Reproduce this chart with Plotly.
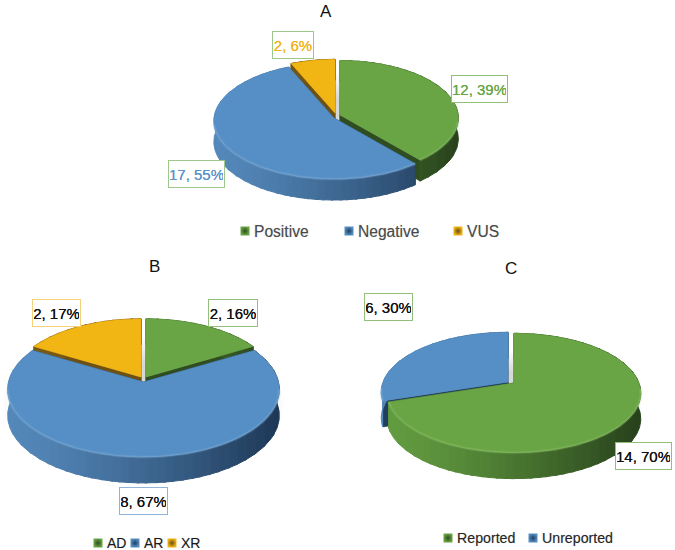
import math
import plotly.graph_objects as go

# panel A
a_names = ["Positive", "Negative", "VUS"]
a_counts = [12, 17, 2]
a_labels = ["12, 39%", "17, 55%", "2, 6%"]
# panel B
b_names = ["AD", "AR", "XR"]
b_counts = [2, 8, 2]
b_labels = ["2, 16%", "8, 67%", "2, 17%"]
# panel C
c_names = ["Reported", "Unreported"]
c_counts = [14, 6]
c_labels = ["14, 70%", "6, 30%"]

GREEN = {"top": "#69a544", "rim": "#8cc06a", "wall_l": (98, 156, 64), "wall_r": (40, 66, 28), "cut": "#2f4d20"}
BLUE = {"top": "#558fc5", "rim": "#80add8", "wall_l": (84, 136, 186), "wall_r": (30, 56, 86), "cut": "#203f60"}
YELLOW = {"top": "#f1b514", "rim": "#f7cc55", "wall_l": (120, 90, 20), "wall_r": (100, 72, 16), "cut": "#6d5012"}

panels = [
    dict(names=a_names, counts=a_counts, colors=[GREEN, BLUE, YELLOW], draw=[2, 0, 1],
         cx=337, cy=116, rx=120, ry=58, p=0.05, depth=21,
         offsets=[(3, -1), (-3, 2), (-2, -3)], scales=[0.985, 1, 0.97]),
    dict(names=b_names, counts=b_counts, colors=[GREEN, BLUE, YELLOW], draw=[0, 2, 1],
         cx=143.5, cy=380, rx=135, ry=66.7, p=0.11, depth=26,
         offsets=[(2.5, -3), (0, 2), (-2.5, -3)], scales=[0.965, 1, 0.965]),
    dict(names=c_names, counts=c_counts, colors=[GREEN, BLUE], draw=[1, 0],
         cx=511, cy=383, rx=125, ry=58, p=0.167, depth=26,
         offsets=[(3, 0), (-3, -1)], scales=[1, 1]),
]

fig = go.Figure()


def project(pan, off, theta, r=1.0):
    u, v = math.sin(theta) * r, math.cos(theta) * r
    k = 1 / (1 + pan["p"] * v)
    return pan["cx"] + off[0] + pan["rx"] * u * k, pan["cy"] + off[1] - pan["ry"] * v * k


def poly(xs, ys, color, opacity=1.0, width=0.6):
    fig.add_trace(go.Scatter(x=xs, y=ys, mode="lines", fill="toself", fillcolor=color, opacity=opacity,
                             line=dict(color=color, width=width), hoverinfo="skip", showlegend=False))


def draw_shadow(pan):
    # stacked faint ellipses, darkest under the middle of the pie
    for i in range(10):
        r = 1.03 - i * 0.05
        pts = [project(pan, (0, pan["depth"] - 7), math.radians(d), r) for d in range(0, 361, 4)]
        poly([q[0] for q in pts], [q[1] for q in pts], "#000000", 0.016, 0)


def draw_slice(pan, i, a0, a1):
    off = pan["offsets"][i]
    col = pan["colors"][i]
    d = pan["depth"]
    steps = max(int(math.degrees(a1 - a0)), 2)
    angles = [a0 + (a1 - a0) * s / steps for s in range(steps + 1)]
    rim = [project(pan, off, a, pan["scales"][i]) for a in angles]
    ax, ay = project(pan, off, 0, 0)

    # cut faces
    for q in (rim[0], rim[-1]):
        poly([ax, q[0], q[0], ax, ax], [ay, q[1], q[1] + d, ay + d, ay], col["cut"])

    # outer wall, one polygon per run of equal shade
    xmin, xmax = pan["cx"] - pan["rx"], pan["cx"] + pan["rx"]
    runs = []
    for j in range(steps):
        t = min(max(((rim[j][0] + rim[j + 1][0]) / 2 - xmin) / (xmax - xmin), 0), 1)
        key = round(t * 30)
        if runs and runs[-1][0] == key:
            runs[-1][2] = j + 1
        else:
            runs.append([key, j, j + 1])
    for key, j0, j1 in runs:
        t = (key / 30) ** 1.3
        rgb = tuple(round(l + (r - l) * t) for l, r in zip(col["wall_l"], col["wall_r"]))
        seg = rim[j0:min(j1 + 2, steps + 1)]
        xs = [q[0] for q in seg] + [q[0] for q in reversed(seg)]
        ys = [q[1] for q in seg] + [q[1] + d for q in reversed(seg)]
        poly(xs + xs[:1], ys + ys[:1], "rgb(%d,%d,%d)" % rgb, width=1)

    # top face
    poly([ax] + [q[0] for q in rim] + [ax], [ay] + [q[1] for q in rim] + [ay], col["top"])

    # soft bevel on the front of the rim
    front = [q for a, q in zip(angles, rim) if math.cos(a) < -0.1]
    if front:
        for width, alpha in [(3, 0.25), (1, 0.5)]:
            fig.add_trace(go.Scatter(x=[q[0] for q in front], y=[q[1] for q in front], mode="lines", opacity=alpha,
                                     line=dict(color=col["rim"], width=width), hoverinfo="skip", showlegend=False))


for pan in panels:
    draw_shadow(pan)
    total = sum(pan["counts"])
    edges = [0]
    for c in pan["counts"]:
        edges.append(edges[-1] + c / total * 2 * math.pi)
    for i in pan["draw"]:
        draw_slice(pan, i, edges[i], edges[i + 1])

# legends: marker + text, one trace per entry
legend_rows = [
    (a_names, [245, 349, 458], 231, (GREEN, BLUE, YELLOW), "#4a4a4a", 15.6),
    (b_names, [98, 135, 172], 543, (GREEN, BLUE, YELLOW), "#1a1a1a", 14),
    (c_names, [448, 533], 538, (GREEN, BLUE), "#262626", 14.2),
]
for names, xs, y, cols, tcolor, size in legend_rows:
    for name, x, c in zip(names, xs, cols):
        fig.add_trace(go.Scatter(x=[x], y=[y], mode="markers", hoverinfo="skip", showlegend=False,
                                 marker=dict(symbol="square", size=9, color=c["top"],
                                             gradient=dict(type="radial", color=c["cut"]), line=dict(width=0))))
        fig.add_annotation(x=x + 7, y=y, text=name, showarrow=False, xanchor="left", yanchor="middle",
                           font=dict(family="Liberation Sans", size=size, color=tcolor,
                                     shadow="0 0 1px rgba(0,0,0,0.25)"))

# titles
for text, x, y in [("A", 326, 0.5), ("B", 154, 256), ("C", 511, 258)]:
    fig.add_annotation(x=x, y=y, text=text, showarrow=False, yanchor="top", borderpad=0,
                       font=dict(family="Liberation Sans", size=17, color="#111111"))

# data labels: text, centre x, centre y, box width, text colour, border colour
label_boxes = [
    (a_labels[0], 479.5, 88.5, 57, "#69a544", "#8fc078"),
    (a_labels[1], 196.5, 174, 57, "#5b93c9", "#9cc98a"),
    (a_labels[2], 293, 45, 42, "#f0b41c", "#9cc98a"),
    (b_labels[0], 233, 312.5, 50, "#111111", "#93bf7c"),
    (b_labels[1], 143.5, 501, 49, "#111111", "#8fb3d9"),
    (b_labels[2], 56.5, 313, 49, "#111111", "#f5d27a"),
    (c_labels[0], 643.5, 456, 57, "#111111", "#93bf7c"),
    (c_labels[1], 388.5, 307, 49, "#111111", "#93bf7c"),
]
for text, x, y, w, tcolor, bcolor in label_boxes:
    fig.add_annotation(x=x, y=y, text=text, showarrow=False, width=w - 4, height=24, align="center", valign="middle",
                       bgcolor="white", bordercolor=bcolor, borderwidth=1, borderpad=1,
                       font=dict(family="Liberation Sans", size=15, color=tcolor,
                                 shadow="0 0 0.6px %s" % tcolor))

fig.update_xaxes(range=[0, 675], visible=False, fixedrange=True)
fig.update_yaxes(range=[550, 0], visible=False, fixedrange=True)
fig.update_layout(width=675, height=550, margin=dict(l=0, r=0, t=0, b=0), paper_bgcolor="white",
                  plot_bgcolor="white", showlegend=False)
fig.write_html("out.html", config={"displayModeBar": False}, post_script="document.body.style.margin='0';")
